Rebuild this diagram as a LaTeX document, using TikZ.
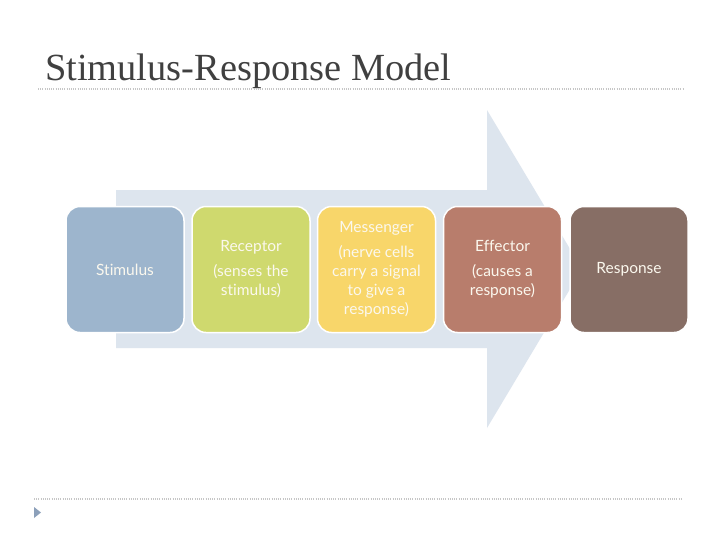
\documentclass[tikz,border=0pt]{standalone}
\usepackage{fontspec}
\setmainfont{Liberation Serif}
\newfontfamily\boxfont[Ligatures={NoCommon}]{Lato}
\definecolor{titlegray}{HTML}{404040}
\definecolor{arrowfill}{HTML}{DDE5EE}
\definecolor{cstim}{HTML}{9DB5CD}
\definecolor{crecep}{HTML}{CFD96E}
\definecolor{cmess}{HTML}{F8D66A}
\definecolor{ceff}{HTML}{B87D6C}
\definecolor{cresp}{HTML}{876E65}
\definecolor{ctri}{HTML}{8CA0BA}
\definecolor{boxtext}{HTML}{FBF8EE}
\tikzset{
  stagebox/.style={draw=white, line width=1.5pt, rounded corners=14pt,
    minimum width=118pt, minimum height=126pt, inner sep=2pt,
    align=center, text=boxtext,
    font=\boxfont\fontsize{15.5}{19}\selectfont},
  dotline/.style={draw=gray!45, line width=1.2pt, dash pattern=on 1pt off 1.2pt}
}
\begin{document}
\begin{tikzpicture}[x=1pt,y=-1pt]
\useasboundingbox (0,0) rectangle (720,539);
\fill[white] (0,0) rectangle (720,539);
\node[anchor=base west, inner sep=0, text=titlegray,
  font=\fontsize{38.4}{42}\selectfont] (title) at (45,80) {Stimulus-Response Model};
\draw[dotline] (38,89) -- (683,89);
\draw[dotline] (34,499) -- (683,499);
\fill[ctri] (34,507) -- (41,512.5) -- (34,518) -- cycle;
\fill[arrowfill] (116,190) -- (487,190) -- (487,110) -- (582,269)
  -- (487,428) -- (487,348) -- (116,348) -- cycle;
\node[stagebox, fill=cstim] (stim) at (125,269.5) {Stimulus};
\node[stagebox, fill=crecep] (recep) at (251,269.5) {Receptor\\[6pt](senses the\\stimulus)};
\node[stagebox, fill=cmess] (mess) at (376.5,269.5) {Messenger\\[6pt](nerve cells\\carry a signal\\to give a\\response)};
\node[stagebox, fill=ceff] (eff) at (502.5,269.5) {Effector\\[6pt](causes a\\response)};
\node[stagebox, fill=cresp] (resp) at (629,269.5) {Response};
\end{tikzpicture}
\end{document}
